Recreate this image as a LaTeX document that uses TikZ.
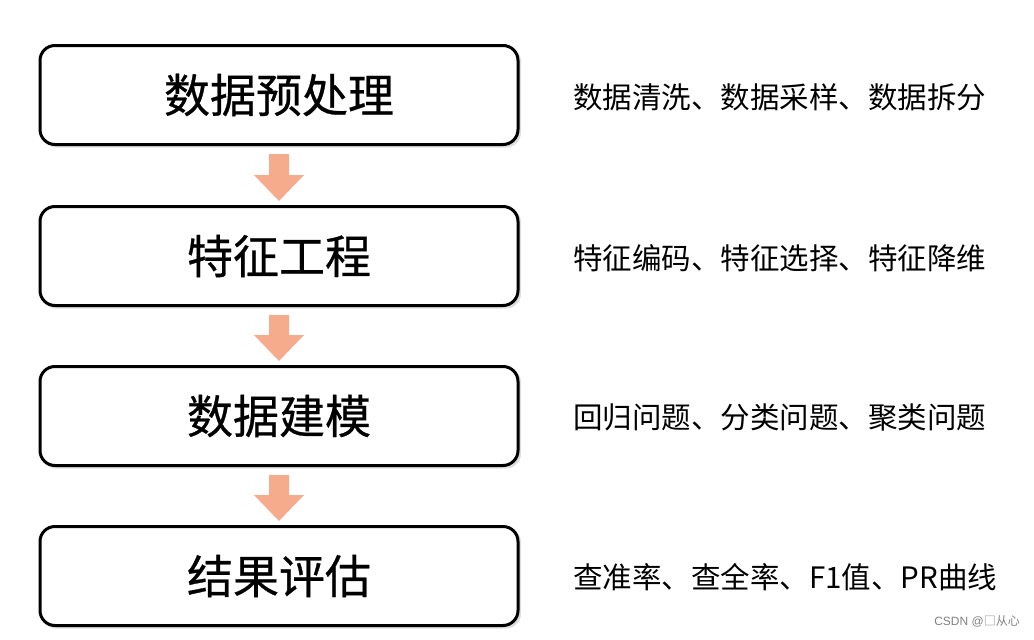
\documentclass[tikz,border=0pt]{standalone}
\usepackage{fontspec}
\setmainfont{Noto Sans CJK SC}
\newfontfamily\cjk{Noto Sans CJK SC}
\newfontfamily\cjkbox[FakeBold=0.6]{Noto Sans CJK SC}
\newfontfamily\wm{Liberation Sans}
\definecolor{arrowfill}{RGB}{246,172,140}
\definecolor{wmgray}{RGB}{130,130,130}
\tikzset{
  x=1pt, y=-1pt,
  stagebox/.style={draw=black, line width=3pt, rounded corners=15pt, fill=white,
    minimum width=478pt, minimum height=99pt, inner sep=0pt,
    font=\cjkbox\fontsize{46}{50}\selectfont},
  shadowbox/.style={fill=black!25, rounded corners=15pt, minimum width=480pt, minimum height=101pt, inner sep=0pt},
  desc/.style={anchor=west, inner sep=0pt, font=\cjk\fontsize{29.5}{32}\selectfont},
  flowarrow/.style={fill=arrowfill, draw=none},
}
\newcommand{\flowarrowfrom}[2]{%
  \fill[flowarrow] ([shift={(-10,8)}]#1.south) -- ([shift={(10,8)}]#1.south)
    -- ([shift={(10,-30)}]#2.north) -- ([shift={(25,-30)}]#2.north)
    -- ([shift={(0,-4)}]#2.north) -- ([shift={(-25,-30)}]#2.north)
    -- ([shift={(-10,-30)}]#2.north) -- cycle;}
\begin{document}
\begin{tikzpicture}
\useasboundingbox (0,0) rectangle (1034,640);
\fill[white] (0,0) rectangle (1034,640);
% shadows
\foreach \y in {95,256,416,576} {
  \node[shadowbox, opacity=0.5] at (281,\y+2) {};
}
\node[stagebox] (s1) at (279,95) {数据预处理};
\node[stagebox] (s2) at (279,256) {特征工程};
\node[stagebox] (s3) at (279,416) {数据建模};
\node[stagebox] (s4) at (279,576) {结果评估};

\flowarrowfrom{s1}{s2}
\flowarrowfrom{s2}{s3}
\flowarrowfrom{s3}{s4}

\node[desc] (d1) at (573,97) {数据清洗、数据采样、数据拆分};
\node[desc] (d2) at (573,258) {特征编码、特征选择、特征降维};
\node[desc] (d3) at (573,417) {回归问题、分类问题、聚类问题};
\node[desc] (d4) at (573,577) {查准率、查全率、F1值、PR曲线};

\node[anchor=east, inner sep=0pt, text=wmgray, font=\wm\fontsize{12}{14}\selectfont] (wm) at (1020,621) {CSDN @{\cjk □从心}};
\end{tikzpicture}
\end{document}
